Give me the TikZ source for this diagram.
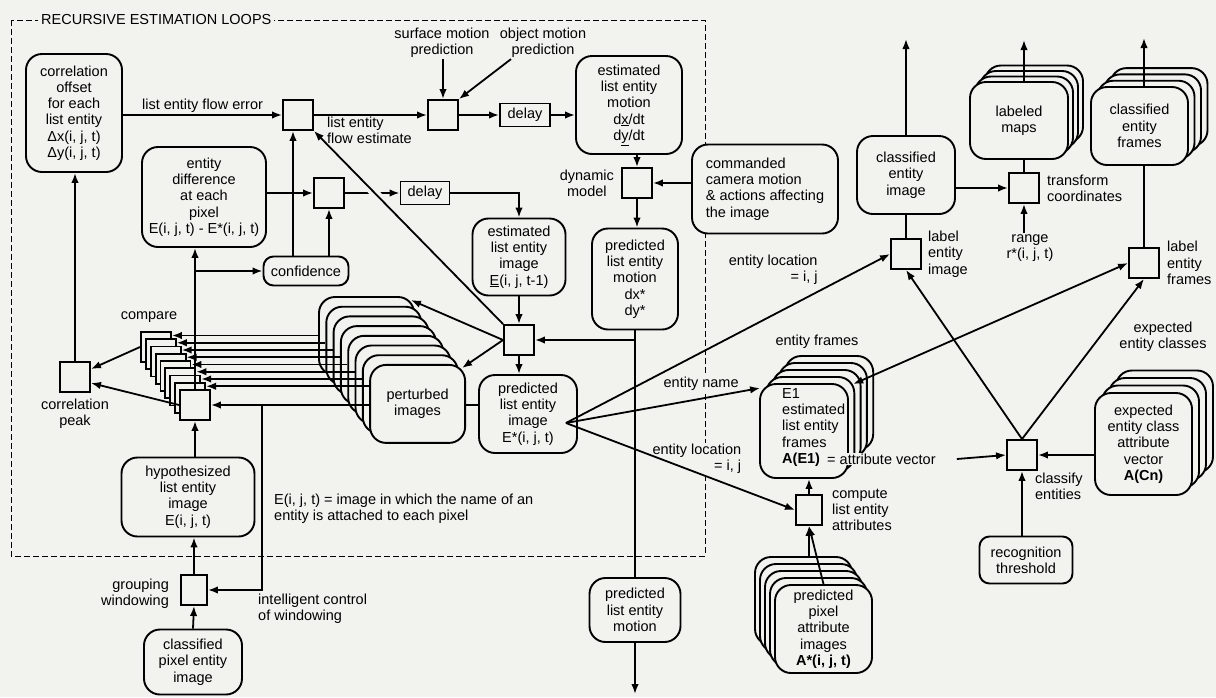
\documentclass[tikz,border=0pt]{standalone}
\usepackage{fontspec}
\setmainfont{Liberation Sans}
\usetikzlibrary{arrows.meta,positioning,calc}
\definecolor{paper}{RGB}{242,242,239}

\begin{document}
\begin{tikzpicture}[
  x=1pt, y=-1pt,
  font=\fontsize{14.5}{16.3}\selectfont,
  blk/.style={rectangle, draw, line width=1.9pt, rounded corners=16pt, fill=paper,
              align=center, inner sep=1pt},
  sml/.style={blk, rounded corners=10pt},
  sq/.style={rectangle, draw, line width=1.9pt, fill=paper, minimum size=30pt, inner sep=0pt},
  dly/.style={rectangle, draw, line width=1.9pt, fill=paper, minimum width=50pt,
              minimum height=23pt, inner sep=1pt},
  lbl/.style={inner sep=1pt, align=center},
  flow/.style={-{Latex[length=10pt,width=7.5pt]}, line width=1.8pt},
  flow2/.style={{Latex[length=10pt,width=7.5pt]}-{Latex[length=10pt,width=7.5pt]}, line width=1.8pt},
  lnk/.style={line width=1.8pt}
]
\fill[paper] (0,0) rectangle (1216,697);
\useasboundingbox (0,0) rectangle (1216,697);

% recursive loops frame
\draw[dash pattern=on 6pt off 3pt, line width=0.9pt] (11,20) rectangle (705,556);
\node[lbl, fill=paper, anchor=west, inner xsep=3pt] (title) at (38,20) {RECURSIVE ESTIMATION LOOPS};

% flow estimate loop
\node[blk, minimum width=96pt, minimum height=118pt] (corroff) at (74,113) {correlation\\offset\\for each\\list entity\\Δx(i, j, t)\\Δy(i, j, t)};
\node[sq] (sum1) at (298,115) {};
\node[sq] (sum2) at (443,115) {};
\node[lbl] (surf) at (442,43) {surface motion\\prediction};
\node[lbl] (objm) at (543,43) {object motion\\prediction};
\node[dly] (delay1) at (525,115) {delay};
\node[blk, minimum width=106pt, minimum height=98pt] (estmot) at (629,105) {estimated\\list entity\\motion\\d\underline{x}/dt\\d\underline{y}/dt};
\node[sq] (dyn) at (637,183) {};
\node[lbl, left=6pt of dyn] (dynlbl) {dynamic\\model};
\node[blk, align=left, minimum width=146pt, minimum height=89pt] (cmd) at (765,189) {commanded\\camera motion\\\& actions affecting\\the image};
\node[blk, minimum width=86pt, minimum height=101pt] (predmot) at (635,279) {predicted\\list entity\\motion\\dx*\\dy*};
\node[blk, minimum width=91pt, minimum height=64pt] (predmot2) at (635,610) {predicted\\list entity\\motion};

% image estimate loop
\node[blk, minimum width=124pt, minimum height=100pt] (entdiff) at (204,197) {entity\\difference\\at each\\pixel\\E(i, j, t) - E*(i, j, t)};
\node[sq] (sum3) at (329,193) {};
\node[dly, minimum width=49pt] (delay2) at (425,193) {delay};
\node[sml, minimum width=85pt, minimum height=29pt] (conf) at (306,271) {confidence};
\node[blk, minimum width=93pt, minimum height=77pt] (estimg) at (519,257) {estimated\\list entity\\image\\\underline{E}(i, j, t-1)};
\node[sq] (prsq) at (519,340) {};
\node[blk, minimum width=98pt, minimum height=78pt] (predimg) at (528,414) {predicted\\list entity\\image\\E*(i, j, t)};

% compare stack
\foreach \i in {0,...,8}
  \node[sq] (cmp\i) at ({156+4.875*\i},{347+7.25*\i}) {};
\node[lbl] (cmplbl) at (149,317) {compare};
\node[sq] (cpk) at (75,377) {};
\node[lbl, below=5pt of cpk] (cpklbl) {correlation\\peak};

% perturbed images
\foreach \k in {0,...,6}
  \node[blk, minimum width=95pt, minimum height=78pt] (pert\k) at ({366.5+7.3*\k},{336+9.7*\k}) {};
\draw[flow] (predimg.west |- cmp8) -- (cmp8.east);
\node[blk, minimum width=95pt, minimum height=78pt] (pert7) at (417.6,403.9) {perturbed\\images};

\node[blk, minimum width=133pt, minimum height=79pt] (hyp) at (188,497) {hypothesized\\list entity\\image\\E(i, j, t)};
\node[sq, minimum width=26pt] (grp) at (194,590) {};
\node[lbl, left=10pt of grp, yshift=-4pt, align=right] (grplbl) {grouping\\windowing};
\node[blk, minimum width=98pt, minimum height=65pt] (cpix) at (193,662) {classified\\pixel entity\\image};
\node[lbl, align=left, anchor=west] (ctllbl) at (257,609) {intelligent control\\of windowing};
\node[lbl, align=left, anchor=west] (note) at (273,509) {E(i, j, t) = image in which the name of an\\entity is attached to each pixel};

% classification side
\node[blk, minimum width=98pt, minimum height=78pt] (celimg) at (906,175) {classified\\entity\\image};
\node[sq] (lbl1) at (906,254) {};
\node[lbl, align=left, right=5pt of lbl1] (lbl1txt) {label\\entity\\image};
\foreach \k in {3,2,1}
  \node[blk, minimum width=98pt, minimum height=77pt] (maps\k) at ({1019+5*\k},{120.5-5.5*\k}) {};
\node[blk, minimum width=98pt, minimum height=77pt] (maps) at (1019,120.5) {labeled\\maps};
\node[sq] (trsq) at (1024,188) {};
\node[lbl, align=left, right=6pt of trsq] (trlbl) {transform\\coordinates};
\node[lbl] (range) at (1030,248) {range\\r*(i, j, t)};
\foreach \k in {3,2,1}
  \node[blk, minimum width=97pt, minimum height=78pt] (cefr\k) at ({1139.5+6.5*\k},{126-6.3*\k}) {};
\node[blk, minimum width=97pt, minimum height=78pt] (cefr) at (1139.5,126) {classified\\entity\\frames};
\node[sq] (lbl2) at (1144,263) {};
\node[lbl, align=left, right=6pt of lbl2] (lbl2txt) {label\\entity\\frames};
\node[lbl] (expcls) at (1163,337) {expected\\entity classes};
\foreach \k in {3,2,1}
  \node[blk, minimum width=97pt, minimum height=102pt] (expf\k) at ({1143.5+7*\k},{444-7.5*\k}) {};
\node[blk, minimum width=97pt, minimum height=102pt] (expf) at (1143.5,444) {expected\\entity class\\attribute\\vector\\\textbf{A(Cn)}};
\node[sq] (clsq) at (1022,455) {};
\node[lbl, align=left, below right=1pt and -4pt of clsq.south east] (cllbl) {classify\\entities};
\node[sml, minimum width=93pt, minimum height=47pt] (recog) at (1026,560) {recognition\\threshold};

% entity frames
\node[lbl] (efrlbl) at (817,342) {entity frames};
\foreach \k in {4,...,1}
  \node[blk, minimum width=88pt, minimum height=94pt] (efr\k) at ({804+6.3*\k},{431-7*\k}) {};
\node[blk, minimum width=88pt, minimum height=94pt] (efr) at (804,431) {};
\node[lbl, align=left, anchor=north west] (efrtxt) at (781,387) {E1\\estimated\\list entity\\frames\\\textbf{A(E1)}};
\node[lbl, anchor=west, fill=paper] (attv) at (826,459) {= attribute vector};
\node[sq, minimum width=26pt] (cmpat) at (809,510) {};
\node[lbl, align=left, right=8pt of cmpat] (cmpatlbl) {compute\\list entity\\attributes};
\foreach \k in {4,...,1}
  \node[blk, minimum width=97pt, minimum height=88pt] (pxa\k) at ({823.5-5*\k},{629-7*\k}) {};
\node[blk, minimum width=97pt, minimum height=88pt] (pxa) at (823.5,629) {predicted\\pixel\\attribute\\images\\\textbf{A*(i, j, t)}};

% connectors, loops
\draw[flow] (corroff.east |- sum1) -- node[lbl, above=1pt] {list entity flow error} (sum1.west);
\draw[flow] (sum1.east) -- node[lbl, align=left, anchor=north west, pos=0.1] {list entity\\flow estimate} (sum2.west);
\draw[flow] (surf.south -| sum2) -- (sum2.north);
\draw[flow] ([xshift=-32pt]objm.south) -- (sum2.north east);
\draw[flow] (sum2.east) -- (delay1.west);
\draw[flow] (delay1.east) -- (delay1.east -| estmot.west);
\draw[flow] (dyn |- estmot.south) -- (dyn.north);
\draw[flow] (cmd.west |- dyn) -- (dyn.east);
\draw[flow] (dyn.south) -- (dyn.south |- predmot.north);
\draw[lnk] (predmot.south) -- (predmot2.north);
\coordinate (out1) at (635,694);
\draw[flow] (predmot2.south) -- (out1);

\draw[flow] (entdiff.east |- sum3) -- (sum3.west);
\draw[flow] (sum3.east) -- (delay2.west);
\draw[flow] (delay2.east) -| (estimg.north);
\draw[flow] ([xshift=-5pt]sum1.south |- conf.north) -- ([xshift=-5pt]sum1.south);
\draw[flow] (sum3.south |- conf.north) -- (sum3.south);
\draw[flow] (estimg.south) -- (prsq.north);
\draw[flow] (prsq.south) -- (prsq.south |- predimg.north);
\draw[flow] (predmot.south |- prsq) -- (prsq.east);
\draw[paper, line width=9pt] ($(prsq.north west)!0.62!(sum1.south east)$) -- ($(prsq.north west)!0.74!(sum1.south east)$);
\draw[flow] (prsq.north west) -- (sum1.south east);
\draw[flow] (prsq.west) -- ([shift={(-4pt,-4pt)}]pert0.north east);
\draw[flow] (prsq.west) -- ([shift={(-4pt,-4pt)}]pert7.north east);
\foreach \i in {0,...,7}{
  \pgfmathsetmacro\yy{335.5+7.25*\i}
  \coordinate (ylev) at (0,\yy);
  \draw[flow] (pert\i.west |- ylev) -- (cmp\i.east |- ylev);
}
\draw[flow] (cmp8.north) -- (cmp8.north |- entdiff.south);
\draw[flow] (cmp8.north |- conf) -- (conf.west);
\draw[flow] (cmp0.west) -- ([yshift=8pt]cpk.east);
\draw[flow] (cmp8.west) -- ([yshift=-6pt]cpk.east);
\draw[flow] (cpk.north) -- (cpk.north |- corroff.south);
\draw[flow] (cmp8.south |- hyp.north) -- (cmp8.south);
\draw[flow] (grp.north) -- (grp.north |- hyp.south);
\draw[flow] (cpix.north) -- (grp.south);
\coordinate (ctl) at ($(cmp8.east)!0.19!(predimg.west |- cmp8)$);
\draw[flow] (ctl) |- (grp.east);

% connectors, classification
\coordinate (out2) at (906,39);
\draw[flow] (celimg.north) -- (out2);
\draw[lnk] (lbl1.north) -- (celimg.south);
\draw[flow] (celimg.east |- trsq) -- (trsq.west);
\draw[lnk] (trsq.north) -- (trsq.north |- maps.south);
\coordinate (out3) at (1024,40);
\draw[flow] (out3 |- maps.north) -- (out3);
\draw[flow] (range.north -| trsq) -- (trsq.south);
\coordinate (out4) at (1144,38);
\draw[flow] (out4 |- cefr.north) -- (out4);
\draw[lnk] (lbl2.north) -- (lbl2.north |- cefr.south);
\draw[flow] (expf.west |- clsq) -- (clsq.east);
\draw[flow] ([xshift=20pt]attv.east) -- (clsq.west);
\draw[flow] (recog.north -| clsq) -- (clsq.south);
\draw[flow] (clsq.north) -- (lbl1.south);
\draw[flow] (clsq.north) -- (lbl2.south);
\draw[flow2] ([shift={(-2pt,-8pt)}]efr1.north east) -- (lbl2.west);
\draw[flow] (cmpat.north) -- (cmpat.north |- efr.south);
\draw[flow] (cmpat |- pxa4.north) -- (cmpat.south);
\draw[flow] (pxa.north) -- (cmpat.south);

% entity image outputs
\coordinate (pbranch) at ([xshift=-12pt,yshift=-9pt]predimg.east);
\node[lbl, align=right, anchor=south east, fill=paper, yshift=5pt] (eloc1) at ($(pbranch)!0.78!(lbl1.west)$) {entity location\\= i, j};
\node[lbl, anchor=south, fill=paper, yshift=3pt] (ename) at ($(pbranch)!0.7!(efr.north west)$) {entity name};
\node[lbl, align=right, anchor=south east, fill=paper, yshift=15pt] (eloc2) at ($(pbranch)!0.77!(cmpat.west)$) {entity location\\= i, j};
\draw[flow] (pbranch) -- (lbl1.west);
\draw[flow] (pbranch) -- ([shift={(1pt,-5pt)}]efr.north west);
\draw[flow] (pbranch) -- (cmpat.west);
\end{tikzpicture}
\end{document}
